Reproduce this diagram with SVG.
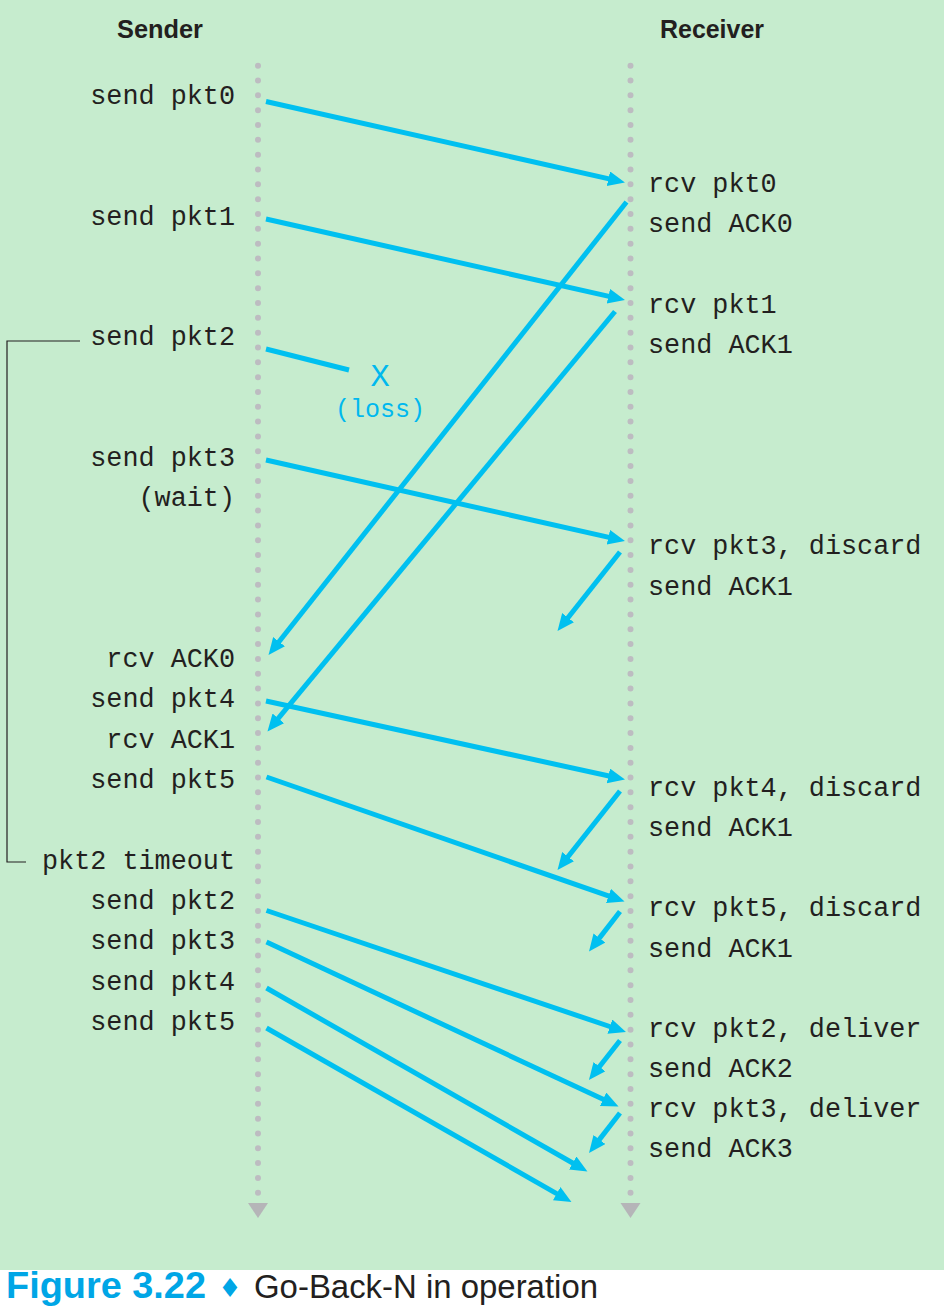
<svg xmlns="http://www.w3.org/2000/svg" width="944" height="1308" viewBox="0 0 944 1308">
<style>
.mono{font-family:"Liberation Mono","DejaVu Sans Mono",monospace;font-size:26.8px;fill:#231f20}
.l{text-anchor:end}
.head{font-family:"Liberation Sans",Arial,sans-serif;font-weight:bold;font-size:26px;fill:#231f20;text-anchor:middle}
.arr{stroke:#00c0f0;stroke-width:5;fill:none;marker-end:url(#ah)}
.tl{stroke:#bdbcc1;stroke-width:6;stroke-linecap:round;stroke-dasharray:0 14.83}
</style>
<defs>
<marker id="ah" markerUnits="userSpaceOnUse" markerWidth="19" markerHeight="17" refX="3" refY="7.5" orient="auto">
<path d="M0,0 L17,7.5 L0,15 Z" fill="#00c0f0"/>
</marker>
</defs>
<rect x="0" y="0" width="944" height="1308" fill="#ffffff"/>
<rect x="0" y="0" width="944" height="1270" fill="#c6ecce"/>
<g id="titles">
<text class="head" x="160" y="38" textLength="86" lengthAdjust="spacingAndGlyphs">Sender</text>
<text class="head" x="712" y="38" textLength="104" lengthAdjust="spacingAndGlyphs">Receiver</text>
</g>
<g id="timelines">
<line class="tl" x1="258" y1="65.7" x2="258" y2="1193"/>
<line class="tl" x1="630.5" y1="65.7" x2="630.5" y2="1193"/>
<polygon points="248,1203 268,1203 258,1218" fill="#b5b5b8"/>
<polygon points="620.5,1203 640.5,1203 630.5,1218" fill="#b5b5b8"/>
</g>
<g id="timeout-bracket">
<polyline points="80,341 7,341 7,862 26,862" fill="none" stroke="#231f20" stroke-width="1.2"/>
</g>
<g id="sender-labels">
<text class="mono l" x="235" y="104">send pkt0</text>
<text class="mono l" x="235" y="225">send pkt1</text>
<text class="mono l" x="235" y="345">send pkt2</text>
<text class="mono l" x="235" y="466">send pkt3</text>
<text class="mono l" x="235" y="506">(wait)</text>
<text class="mono l" x="235" y="667">rcv ACK0</text>
<text class="mono l" x="235" y="707">send pkt4</text>
<text class="mono l" x="235" y="748">rcv ACK1</text>
<text class="mono l" x="235" y="788">send pkt5</text>
<text class="mono l" x="235" y="869">pkt2 timeout</text>
<text class="mono l" x="235" y="909">send pkt2</text>
<text class="mono l" x="235" y="949">send pkt3</text>
<text class="mono l" x="235" y="990">send pkt4</text>
<text class="mono l" x="235" y="1030">send pkt5</text>
</g>
<g id="receiver-labels">
<text class="mono" x="648" y="192">rcv pkt0</text>
<text class="mono" x="648" y="232">send ACK0</text>
<text class="mono" x="648" y="313">rcv pkt1</text>
<text class="mono" x="648" y="353">send ACK1</text>
<text class="mono" x="648" y="554">rcv pkt3, discard</text>
<text class="mono" x="648" y="595">send ACK1</text>
<text class="mono" x="648" y="796">rcv pkt4, discard</text>
<text class="mono" x="648" y="836">send ACK1</text>
<text class="mono" x="648" y="916">rcv pkt5, discard</text>
<text class="mono" x="648" y="957">send ACK1</text>
<text class="mono" x="648" y="1037">rcv pkt2, deliver</text>
<text class="mono" x="648" y="1077">send ACK2</text>
<text class="mono" x="648" y="1117">rcv pkt3, deliver</text>
<text class="mono" x="648" y="1157">send ACK3</text>
</g>
<g id="loss">
<text x="380" y="386" text-anchor="middle" style="font-family:'Liberation Mono',monospace;font-size:32px;fill:#00b8ee">X</text>
<text x="380" y="417" text-anchor="middle" style="font-family:'Liberation Mono',monospace;font-size:25px;fill:#00b8ee">(loss)</text>
</g>
<g id="connectors">
<line class="arr" x1="266" y1="101.5" x2="611.3" y2="179.4"/>
<line class="arr" x1="266" y1="219" x2="611.3" y2="296.9"/>
<line x1="266" y1="349" x2="349" y2="370" stroke="#00c0f0" stroke-width="5"/>
<line class="arr" x1="266" y1="460" x2="611.3" y2="537.9"/>
<line class="arr" x1="626.5" y1="202" x2="277.2" y2="644"/>
<line class="arr" x1="615" y1="311.5" x2="276.4" y2="720.7"/>
<line class="arr" x1="620" y1="552" x2="566.2" y2="620"/>
<line class="arr" x1="266" y1="701" x2="611.3" y2="776.5"/>
<line class="arr" x1="620" y1="791" x2="566.2" y2="859"/>
<line class="arr" x1="266.5" y1="777" x2="611.3" y2="896.9"/>
<line class="arr" x1="620" y1="911.5" x2="597.6" y2="940.4"/>
<line class="arr" x1="266.5" y1="910.5" x2="612.7" y2="1027.5"/>
<line class="arr" x1="620" y1="1040.5" x2="597.6" y2="1069"/>
<line class="arr" x1="266.5" y1="942" x2="605.8" y2="1100.6"/>
<line class="arr" x1="620" y1="1113" x2="597.6" y2="1141.9"/>
<line class="arr" x1="266.5" y1="988" x2="575.3" y2="1164.5"/>
<line class="arr" x1="266.5" y1="1028" x2="559.3" y2="1195.1"/>
</g>
<g id="caption">
<text x="6" y="1298" textLength="200" lengthAdjust="spacingAndGlyphs" style="font-family:'Liberation Sans',Arial,sans-serif;font-weight:bold;font-size:36px;fill:#00a6e6">Figure 3.22</text>
<text x="230" y="1297" text-anchor="middle" style="font-family:'DejaVu Sans',sans-serif;font-size:26px;fill:#00a6e6">♦</text>
<text x="254" y="1298" textLength="344" lengthAdjust="spacingAndGlyphs" style="font-family:'Liberation Sans',Arial,sans-serif;font-size:33px;fill:#231f20">Go-Back-N in operation</text>
</g>
</svg>
